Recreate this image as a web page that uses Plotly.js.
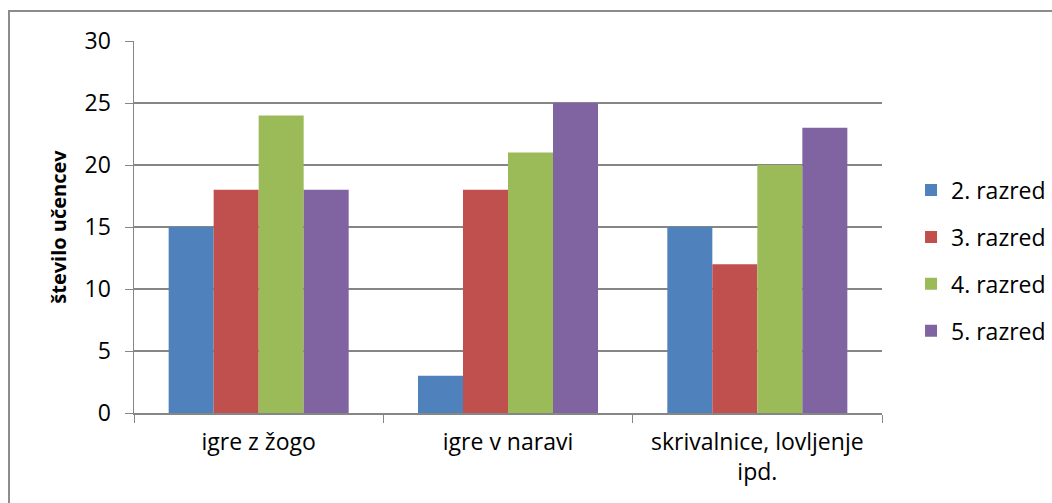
<!DOCTYPE html>
<html>
<head>
<meta charset="utf-8">
<script src="https://cdn.plot.ly/plotly-3.0.1.min.js"></script>
<style>
  html, body { margin: 0; padding: 0; background: #fff; }
  #frame { position: absolute; left: 8px; top: 10px; width: 1044px; height: 493px;
           border-left: 2px solid #8c8c8c; border-top: 2px solid #8c8c8c; pointer-events: none; z-index: 5; }
  #chart { width: 1052px; height: 503px; }
</style>
</head>
<body>
<div id="frame"></div>
<div id="chart"></div>
<script>
const categories = ["igre z žogo", "igre v naravi", "skrivalnice, lovljenje<br>ipd."];
const seriesNames = ["2. razred", "3. razred", "4. razred", "5. razred"];
const razred2 = [15, 3, 15];
const razred3 = [18, 18, 12];
const razred4 = [24, 21, 20];
const razred5 = [18, 25, 23];
const yTicks = [0, 5, 10, 15, 20, 25, 30];
const yTitle = "število učencev";

const colors = ["#4F81BD", "#C0504D", "#9BBB59", "#8064A2"];
const allValues = [razred2, razred3, razred4, razred5];

const traces = allValues.map((vals, i) => ({
  type: "bar",
  name: seriesNames[i],
  x: categories,
  y: vals,
  marker: { color: colors[i], line: { width: 0 } },
  legendgroup: "g" + i,
  hoverinfo: "skip"
}));

const font = "'Open Sans', 'Liberation Sans', sans-serif";

const layout = {
  width: 1052,
  height: 503,
  margin: { l: 134, r: 170, t: 41, b: 90 },
  paper_bgcolor: "#ffffff",
  plot_bgcolor: "#ffffff",
  barmode: "group",
  bargap: 0.278,
  bargroupgap: 0,
  showlegend: true,
  font: { family: font, color: "#000", size: 23 },
  xaxis: {
    type: "category",
    tickson: "boundaries",
    ticks: "outside",
    ticklen: 8,
    tickcolor: "#868686",
    showline: true,
    linecolor: "#868686",
    linewidth: 1.5,
    showgrid: false,
    automargin: false,
    tickfont: { family: font, size: 23, color: "#000" },
    ticklabelstandoff: 8
  },
  yaxis: {
    range: [0, 30],
    tickvals: yTicks,
    ticks: "outside",
    ticklen: 8,
    tickcolor: "#868686",
    showline: true,
    linecolor: "#868686",
    linewidth: 1.5,
    showgrid: true,
    gridcolor: "#868686",
    gridwidth: 1.2,
    zeroline: false,
    automargin: false,
    tickfont: { family: font, size: 23, color: "#000" },
    ticklabelstandoff: 9,
    title: { text: yTitle, font: { family: font, size: 20, color: "#000", weight: "bold" }, standoff: 12 }
  },
  legend: {
    xref: "container", yref: "container",
    x: 0.866, xanchor: "left",
    y: 0.482, yanchor: "middle",
    font: { family: font, size: 23, color: "#000" },
    traceorder: "grouped",
    tracegroupgap: 14,
    itemwidth: 30,
    bgcolor: "rgba(0,0,0,0)"
  }
};

Plotly.newPlot("chart", traces, layout, { displayModeBar: false, staticPlot: true });
</script>
</body>
</html>
